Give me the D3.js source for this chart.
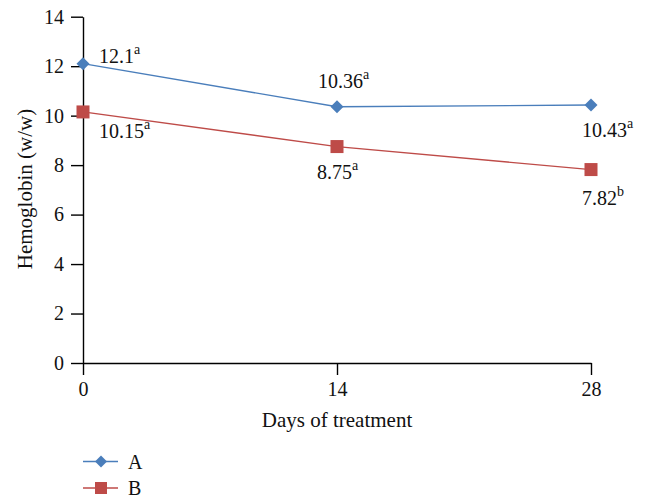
<!DOCTYPE html>
<html>
<head>
<meta charset="utf-8">
<script src="https://cdn.jsdelivr.net/npm/d3@7"></script>
<style>
  body { margin: 0; background: #fff; }
  svg { font-family: "Liberation Serif", "DejaVu Serif", serif; }
</style>
</head>
<body>
<svg id="chart" width="646" height="498"></svg>
<script>
// data
const days = [0, 14, 28];
const seriesA = [12.1, 10.36, 10.43];
const seriesB = [10.15, 8.75, 7.82];
const labelsA = ["12.1", "10.36", "10.43"];
const labelsB = ["10.15", "8.75", "7.82"];
const supA = ["a", "a", "a"];
const supB = ["a", "a", "b"];
const yTicks = [0, 2, 4, 6, 8, 10, 12, 14];

const svg = d3.select("svg#chart");
const x = d3.scaleLinear().domain([0, 28]).range([83, 591]);
const y = d3.scaleLinear().domain([0, 14]).range([363, 16.7]);

const colA = "#4a7ebb", colB = "#be4b48";

// axes
let gy = svg.append("g").attr("transform", "translate(83,0)")
  .call(d3.axisLeft(y).tickValues(yTicks).tickSize(12).tickPadding(7).tickSizeOuter(0));
let gx = svg.append("g").attr("transform", "translate(0,363)")
  .call(d3.axisBottom(x).tickValues(days).tickSize(12).tickPadding(7).tickSizeOuter(0));
[gy, gx].forEach(g => {
  g.selectAll("path, line").attr("stroke", "#000").attr("stroke-width", 1.4);
  g.selectAll("text").attr("fill", "#111").style("font-size", "20px").style("font-family", "Liberation Serif, serif");
});

svg.append("text").attr("x", 337).attr("y", 427).attr("text-anchor", "middle")
  .style("font-size", "21px").attr("fill", "#111").text("Days of treatment");
svg.append("text").attr("transform", "translate(32,189) rotate(-90)").attr("text-anchor", "middle")
  .style("font-size", "21px").attr("fill", "#111").text("Hemoglobin (w/w)");

const line = d3.line().x((d, i) => x(days[i])).y(d => y(d));

function diamond(g, cx, cy, r, col) {
  g.append("path").attr("d", `M${cx},${cy - r}L${cx + r},${cy}L${cx},${cy + r}L${cx - r},${cy}Z`).attr("fill", col);
}
function square(g, cx, cy, s, col) {
  g.append("rect").attr("x", cx - s / 2).attr("y", cy - s / 2).attr("width", s).attr("height", s).attr("fill", col);
}

svg.append("path").datum(seriesA).attr("d", line).attr("fill", "none").attr("stroke", colA).attr("stroke-width", 1.3);
svg.append("path").datum(seriesB).attr("d", line).attr("fill", "none").attr("stroke", colB).attr("stroke-width", 1.3);
seriesA.forEach((v, i) => diamond(svg, x(days[i]), y(v), 6.5, colA));
seriesB.forEach((v, i) => square(svg, x(days[i]), y(v), 13, colB));

// value labels with superscripts: [x, baseline]
const posA = [[99, 63], [318, 88], [582, 137]];
const posB = [[99, 138], [317, 179], [582, 205]];
function valueLabel(txt, sup, p) {
  const t = svg.append("text").attr("x", p[0]).attr("y", p[1])
    .style("font-size", "20px").attr("fill", "#111");
  t.append("tspan").text(txt);
  t.append("tspan").attr("dy", -9).style("font-size", "14px").text(sup);
}
labelsA.forEach((l, i) => valueLabel(l, supA[i], posA[i]));
labelsB.forEach((l, i) => valueLabel(l, supB[i], posB[i]));

// legend
const legend = [["A", colA, 461.5], ["B", colB, 488]];
legend.forEach(([name, col, ly]) => {
  svg.append("line").attr("x1", 83).attr("x2", 118).attr("y1", ly).attr("y2", ly).attr("stroke", col).attr("stroke-width", 1.3);
  if (name === "A") diamond(svg, 101, ly, 6, col); else square(svg, 101, ly, 12, col);
  svg.append("text").attr("x", 128).attr("y", ly + 7).style("font-size", "20px").attr("fill", "#111").text(name);
});
</script>
</body>
</html>
